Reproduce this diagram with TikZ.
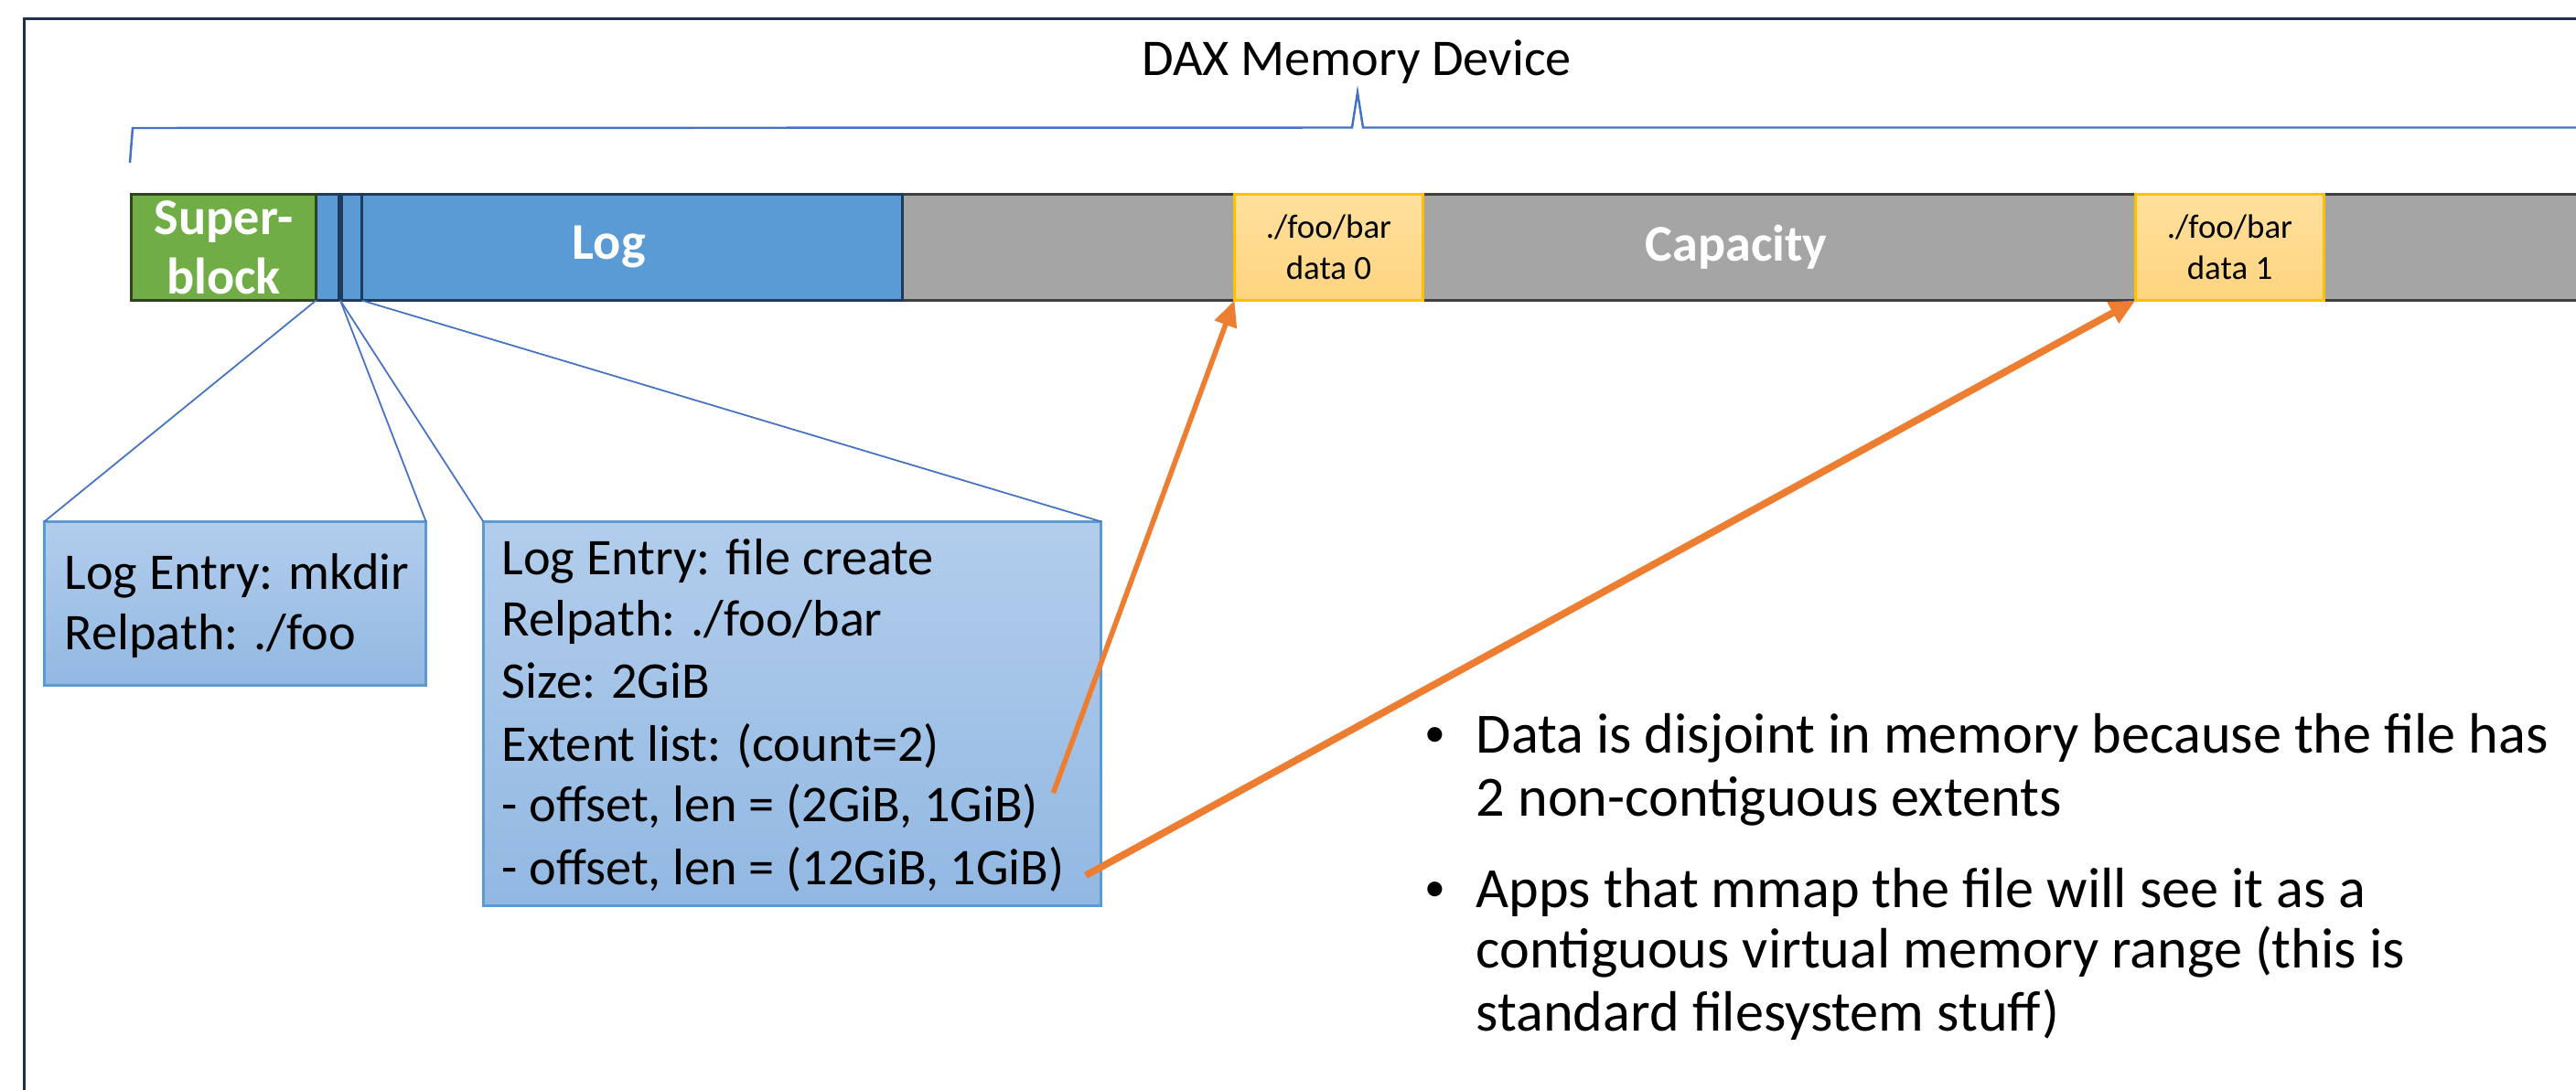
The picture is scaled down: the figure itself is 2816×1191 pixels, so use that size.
\documentclass[tikz,border=0pt]{standalone}
\usepackage{fontspec}
\setmainfont{Carlito}
\usetikzlibrary{arrows.meta}
\definecolor{framec}{HTML}{1F2F4F}
\definecolor{bracec}{HTML}{4472C4}
\definecolor{sbfill}{HTML}{70AD47}
\definecolor{sbdraw}{HTML}{2E4620}
\definecolor{logfill}{HTML}{5B9BD5}
\definecolor{logdraw}{HTML}{1F3A5A}
\definecolor{capfill}{HTML}{A5A5A5}
\definecolor{capdraw}{HTML}{404040}
\definecolor{dtop}{HTML}{FFE09E}
\definecolor{dbot}{HTML}{FFD47F}
\definecolor{ddraw}{HTML}{FFC000}
\definecolor{ctop}{HTML}{B2CDEC}
\definecolor{cbot}{HTML}{92B8E2}
\definecolor{cdraw}{HTML}{5B9BD5}
\definecolor{orangec}{HTML}{ED7D31}
\begin{document}
\begin{tikzpicture}[x=0.01cm,y=-0.01cm,
  blk/.style={draw, line width=0.85pt, inner sep=0pt, outer sep=0pt, minimum height=1.16cm},
  whitebold/.style={text=white, font=\fontsize{16pt}{18.5pt}\selectfont\bfseries},
  datablk/.style={blk, top color=dtop, bottom color=dbot, draw=ddraw, minimum width=2.06cm,
    align=center, font=\fontsize{10.5pt}{12.8pt}\selectfont},
  callout/.style={draw=cdraw, line width=0.85pt, top color=ctop, bottom color=cbot,
    inner sep=0pt, outer sep=0pt},
  zoomline/.style={draw=bracec, line width=0.5pt},
  txt/.style={anchor=base west, inner sep=0pt, font=\fontsize{16pt}{19pt}\selectfont},
  btxt/.style={anchor=base west, inner sep=0pt, font=\fontsize{17.7pt}{21pt}\selectfont},
  bdot/.style={anchor=base west, inner sep=0pt, font=\fontsize{13pt}{15pt}\selectfont},
  extarrow/.style={draw=orangec, -{Triangle[length=8pt,width=7pt]}},
]
\useasboundingbox (0,0) rectangle (2816,1191);
\clip (0,0) rectangle (2816,1191);

% outer frame
\draw[framec, line width=0.85pt] (26.5,1300) -- (26.5,20.5) -- (2900,20.5);

% title and brace
\node[anchor=base, inner sep=0pt, font=\fontsize{16pt}{19pt}\selectfont] (title) at (1483,83) {DAX Memory Device};
\draw[bracec, line width=0.7pt] (142,178) -- (145,140) -- (1478,139.5) -- (1484,101) -- (1490,139.5) -- (2900,139.5);

% memory bar
\node[blk, fill=capfill, draw=capdraw, minimum width=18.54cm] (cap) at (1913,270.5) {};
\node[whitebold, inner sep=0pt] (captxt) at (1898,270.5) {Capacity};
\node[blk, fill=logfill, draw=logdraw, minimum width=6.405cm, whitebold] (log) at (665.75,270.5) {Log};
\node[blk, fill=logfill, draw=logdraw, minimum width=0.265cm] (c1) at (358.75,270.5) {};
\node[blk, fill=logfill, draw=logdraw, minimum width=0.235cm] (c2) at (383.75,270.5) {};
\draw[logdraw, line width=1.7pt] (c1.north east) -- (c1.south east);
\node[blk, fill=sbfill, draw=sbdraw, minimum width=2.02cm, whitebold, align=center] (sb) at (244.5,270.5) {Super-\\block};
\node[datablk] (d0) at (1452.5,270.5) {./foo/bar\\data 0};
\node[datablk] (d1) at (2437.5,270.5) {./foo/bar\\data 1};

% callout boxes
\node[callout, minimum width=4.17cm, minimum height=1.79cm] (mk) at (257,660) {};
\node[callout, minimum width=6.75cm, minimum height=4.20cm] (fc) at (866,780.5) {};

% zoom lines
\draw[zoomline] (c1.south west) -- (mk.north west);
\draw[zoomline] (c1.south east) -- (mk.north east);
\draw[zoomline] (c2.south west) -- (fc.north west);
\draw[zoomline] (c2.south east) -- (fc.north east);

% mkdir entry text
\node[txt] (m1) at (70,644) {Log Entry: mkdir};
\node[txt] (m2) at (70,710) {Relpath: ./foo};

% file create entry text
\node[txt] (f1) at (548,628) {Log Entry: file create};
\node[txt] (f2) at (548,695) {Relpath: ./foo/bar};
\node[txt] (f3) at (548,763) {Size: 2GiB};
\node[txt] (f4) at (548,832) {Extent list: (count=2)};
\node[txt] (f5) at (548,898) {- offset, len = (2GiB, 1GiB)};
\node[txt] (f6) at (548,967) {- offset, len = (12GiB, 1GiB)};

% extent arrows
\draw[extarrow, line width=1.6pt] ([xshift=4.5pt,yshift=4pt]f5.east) -- (d0.south west);
\draw[extarrow, line width=2.2pt] ([xshift=6.5pt,yshift=-2pt]f6.east) -- (d1.south west);

% bullets
\node[bdot] (bu1) at (1557,816) {•};
\node[btxt] (t1) at (1613,823) {Data is disjoint in memory because the file has};
\node[btxt] (t2) at (1613,892) {2 non-contiguous extents};
\node[bdot] (bu2) at (1557,985) {•};
\node[btxt] (t3) at (1613,992) {Apps that mmap the file will see it as a};
\node[btxt] (t4) at (1613,1058) {contiguous virtual memory range (this is};
\node[btxt] (t5) at (1613,1127) {standard filesystem stuff)};
\end{tikzpicture}
\end{document}
